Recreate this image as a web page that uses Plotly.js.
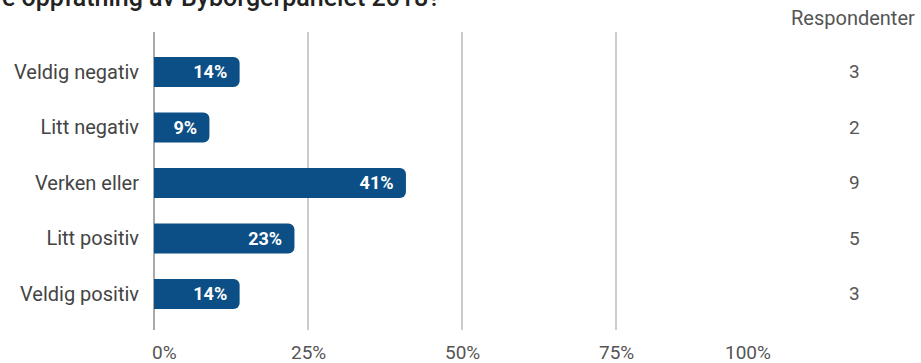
<!DOCTYPE html>
<html>
<head>
<meta charset="utf-8">
<script src="https://cdn.plot.ly/plotly-3.0.1.min.js"></script>
<style>html,body{margin:0;padding:0;background:#fff;}#chart{width:921px;height:363px;}</style>
</head>
<body>
<div id="chart"></div>
<script>
const categories = ["Veldig negativ", "Litt negativ", "Verken eller", "Litt positiv", "Veldig positiv"];
const respondents = [3, 2, 9, 5, 3];
const percentages = [13.9, 9.0, 40.9, 22.8, 13.9];
const barLabels = ["14%", "9%", "41%", "23%", "14%"];
const xTickVals = [0, 25, 50, 75, 100];
const xTickText = ["0%", "25%", "50%", "75%", "100%"];
const columnHeader = "Respondenter";
const titleText = "e oppfatning av Byborgerpanelet 2018?";

const plotLeft = 154, plotWidth = 616;
const FS = 20;

const trace = {
  type: "bar",
  orientation: "h",
  y: categories,
  x: percentages,
  text: barLabels,
  texttemplate: "%{text}\u00a0\u00a0",
  textposition: "inside",
  insidetextanchor: "end",
  textfont: {family: "Roboto", size: 18, color: "#ffffff", weight: "bold"},
  marker: {color: "#0b4f86", cornerradius: 6, line: {width: 0}},
  width: 0.54,
  hoverinfo: "skip",
  cliponaxis: false
};

const annotations = [];
const anchors = ["left", "center", "center", "center", "right"];
const shifts = [-4, 0, 0, 0, 3];
xTickVals.forEach((v, i) => {
  annotations.push({
    x: v, xref: "x", y: 0, yref: "paper", yanchor: "top", yshift: -9,
    xanchor: anchors[i], xshift: shifts[i],
    text: xTickText[i], showarrow: false,
    font: {family: "Roboto", size: 19, color: "#555555"}
  });
});
annotations.push({
  x: (853 - plotLeft) / plotWidth, xref: "paper", y: 1, yref: "paper", yanchor: "bottom", xanchor: "center", yshift: 0,
  text: columnHeader, showarrow: false,
  font: {family: "Roboto", size: FS, color: "#555555"}
});
categories.forEach((c, i) => {
  annotations.push({
    x: 1, xref: "paper", xshift: 84, y: c, yref: "y", xanchor: "center", yanchor: "middle",
    text: String(respondents[i]), showarrow: false,
    font: {family: "Roboto", size: 19, color: "#555555"}
  });
});
annotations.push({
  x: (442 - plotLeft) / plotWidth, xref: "paper", y: 1, yref: "paper", yanchor: "bottom", xanchor: "right", yshift: 18,
  text: titleText, showarrow: false,
  font: {family: "Roboto", size: 25, color: "#222222", weight: 500}
});

const layout = {
  width: 921, height: 363,
  margin: {l: 154, r: 151, t: 32, b: 33},
  paper_bgcolor: "#ffffff", plot_bgcolor: "#ffffff",
  showlegend: false,
  font: {family: "Roboto", size: FS, color: "#444444"},
  xaxis: {
    range: [0, 100], tickvals: xTickVals, showticklabels: false,
    showgrid: true, gridcolor: "#cccccc", gridwidth: 1.5,
    zeroline: true, zerolinecolor: "#aaaaaa", zerolinewidth: 1.5,
    showline: false, fixedrange: true
  },
  yaxis: {
    type: "category", range: [4.65, -0.72],
    showgrid: false, zeroline: false, showline: false,
    ticks: "", ticklabelstandoff: 14,
    tickfont: {family: "Roboto", size: FS, color: "#444444"},
    fixedrange: true
  },
  annotations: annotations
};

Plotly.newPlot("chart", [trace], layout, {displayModeBar: false, staticPlot: true});
</script>
</body>
</html>
